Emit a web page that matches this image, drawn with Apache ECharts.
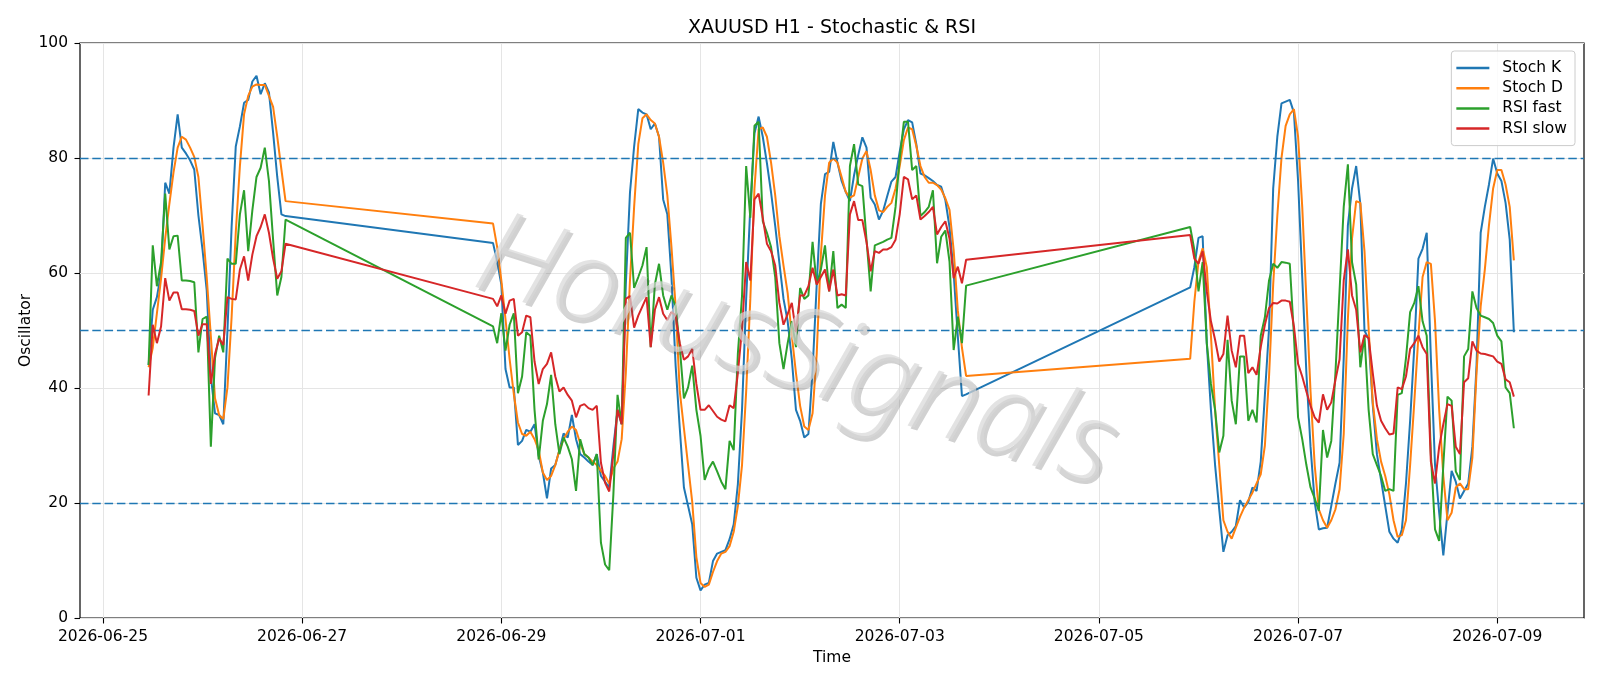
<!DOCTYPE html>
<html>
<head>
<meta charset="utf-8">
<title>XAUUSD H1 - Stochastic &amp; RSI</title>
<script src="https://cdn.jsdelivr.net/npm/echarts@6/dist/echarts.min.js"></script>
<style>
  html, body { margin: 0; padding: 0; background: #fff; }
  #chart { width: 1600px; height: 686px; }
</style>
</head>
<body>
<div id="chart"></div>
<script>
// hourly bars (UTC), three trading sessions; the weekends are just bridged by the lines
var sessionStarts = ['2026-06-25T11:00:00Z', '2026-06-28T22:00:00Z', '2026-07-05T22:00:00Z'];
var sessionLengths = [34, 115, 79];

var stochK = [
  // 06-25 11:00 .. 06-26 20:00
  44, 53.6, 55.8, 60, 75.7, 73.8, 81.8, 87.6, 81.8, 80.8,
  79.6, 78, 70, 64, 57, 42, 35.6, 35.3, 33.7, 50,
  68, 82, 85.5, 89.6, 90.1, 93.3, 94.3, 91.1, 93, 91.4,
  84.4, 76.7, 70.2, 69.9,
  // 06-28 22:00 .. 07-03 16:00
  65.2, 62, 58, 43.3, 40.1, 40.1, 30.1, 30.8, 32.7, 32.4,
  33.7, 28.2, 25.3, 20.8, 26, 26.6, 29.2, 32.1, 31.4, 35.3,
  31.1, 28.5, 27.9, 27.2, 26.6, 28.5, 24.7, 23.7, 22.7, 29.8,
  36.2, 33.7, 58, 74, 82, 88.5, 87.9, 87.6, 85, 86,
  83.7, 72.8, 70.2, 59.3, 43.9, 33, 22.7, 19.5, 16.3, 7,
  4.8, 5.8, 6.1, 9.9, 11.2, 11.5, 11.8, 13.7, 16.3, 23.3,
  36.2, 55.5, 71.5, 84.3, 87.2, 83.7, 79.1, 74, 68.2, 61.8,
  55.5, 51.6, 45, 36.2, 34.3, 31.4, 32, 43, 58, 72,
  77.2, 77.6, 82.8, 79.2, 76, 74.1, 72.5, 77, 80.5, 83.6,
  81.8, 73.1, 71.9, 69.3, 70.8, 73.4, 75.9, 76.7, 81.1, 85,
  86.6, 86.2, 82.4, 77.3, 77, 76.5, 76, 75.3, 75, 72.7,
  68, 60, 49, 38.6, 38.9,
  // 07-05 22:00 .. 07-09 04:00
  57.5, 61, 66.1, 66.4, 47.8, 36.2, 26.6, 18.9, 11.5, 14.4,
  15, 16, 20.5, 19.2, 20.2, 22.7, 22.1, 27.2, 38.8, 50.3,
  74.7, 83.7, 89.5, 89.8, 90.1, 87.9, 76, 59.3, 42.6, 29.8,
  20.2, 15.4, 15.6, 15.7, 19.5, 23.4, 27, 45.2, 68.3, 74.7,
  78.6, 72, 50, 48.5, 37, 28.5, 24, 19.5, 15, 13.8,
  13.1, 15.4, 23.4, 34.3, 47.1, 62.5, 64.2, 67, 45.2, 26.6,
  18.3, 10.9, 18.3, 25.6, 23.7, 20.8, 22.1, 23.4, 29.8, 43.9,
  67, 71.5, 75.4, 79.9, 77.3, 76, 72.2, 65.8, 49.7
];

var stochD = [
  43.6, 47, 53, 59, 66, 72, 77.5, 81.8, 83.7, 83.2,
  81.8, 80.2, 76.7, 68.3, 59.3, 49, 38.2, 35.3, 34.6, 40.1,
  52.3, 67, 78.6, 87.6, 90.8, 92.4, 92.8, 92.7, 92.7, 90.8,
  88.9, 83.7, 78, 72.5,

  68.6, 64.5, 58.7, 52, 45, 39, 34, 32, 31.7, 32.4,
  31.1, 29.2, 25.3, 24, 24.7, 26.6, 29.2, 31.1, 32.4, 33.3,
  32.7, 30.4, 28.5, 27.9, 27.2, 26.6, 25.6, 24.7, 23.4, 26,
  27.2, 31.1, 42.6, 58.7, 71.5, 82.4, 86.9, 87.6, 86.6, 86,
  83.7, 79.2, 73.5, 64.5, 54.2, 39.4, 33, 26.6, 20.2, 10.6,
  6.1, 5.4, 5.8, 8, 9.9, 11.2, 11.5, 12.5, 15, 19.5,
  26.6, 39.4, 55.5, 74.7, 85, 85.3, 83.7, 79.2, 73.5, 66.4,
  61.3, 56.5, 49.1, 42.6, 36.9, 33.3, 32.7, 35.6, 45.9, 63.2,
  73.5, 79.2, 79.9, 79.2, 76.7, 74.1, 73.1, 73.5, 76.7, 79.9,
  81.2, 77.9, 73.5, 70.9, 70.6, 71.5, 72.2, 74.7, 78.6, 83.1,
  85.3, 85, 82.1, 78.6, 76.7, 75.7, 75.7, 75.3, 74.5, 73,
  71, 64, 53.5, 47, 42.1,

  45.1, 55, 62, 64.3, 61, 49.1, 36.2, 26.6, 17, 15,
  13.8, 15.7, 17.6, 19.2, 20.5, 21.8, 23.4, 25, 30, 42,
  58, 70, 80, 85.6, 87.6, 88.5, 83.7, 71.5, 55.5, 39.4,
  26.6, 18.9, 17, 15.7, 17, 18.9, 22.4, 32, 52, 66,
  72.5, 72.2, 63.8, 50.3, 37.5, 31.1, 27.2, 24.7, 21.5, 17,
  14.1, 14.4, 17, 26.6, 37.5, 49.1, 59.3, 61.9, 61.6, 51.6,
  36.2, 24.7, 17, 18.3, 22.7, 23.4, 22.4, 22.4, 27.9, 42.6,
  54.2, 60.6, 68.3, 74.7, 77.9, 77.9, 75.4, 71.5, 62.2
];

var rsiFast = [
  44, 64.8, 57.7, 61.9, 73.8, 64.1, 66.4, 66.5, 58.7, 58.7,
  58.6, 58.4, 46.2, 52, 52.4, 29.8, 45.2, 49.1, 46.2, 62.5,
  61.6, 61.6, 70.2, 74.4, 63.8, 70.9, 76.7, 78.3, 81.8, 76,
  65.8, 56.1, 59.3, 69.3,

  50.7, 47.8, 53, 46.5, 51, 53, 39.1, 42, 49.7, 49.1,
  36.2, 27.6, 34.3, 37.2, 42.3, 33.7, 28.5, 31.4, 29.8, 27.6,
  22.1, 31.1, 28.5, 27.9, 26.6, 28.5, 13.1, 9.3, 8.3, 21.5,
  38.8, 33.7, 66.1, 67, 57.4, 59.3, 61.3, 64.5, 47.1, 58,
  61.6, 56.1, 53.6, 56.1, 54.2, 47.1, 38.2, 40.1, 43.9, 36.2,
  31.7, 24, 26, 27.2, 25.5, 23.7, 22.4, 30.8, 29.2, 46,
  56, 78.6, 69.6, 85.6, 86.3, 69, 67, 64.5, 59.3, 47.8,
  43.3, 47.8, 51.6, 47.1, 57.4, 55.5, 56.1, 65.4, 58, 60.6,
  64.8, 56.8, 63.8, 53.9, 54.5, 53.9, 78.6, 82.4, 75.4, 75.1,
  65.8, 56.8, 64.8, 65.1, 65.4, 65.8, 66.1, 71.5, 79.9, 86.3,
  86.3, 77.9, 78.6, 69.9, 70.6, 71.5, 74.4, 61.7, 66.3, 67.4,
  62, 46.6, 52.4, 47.8, 57.8,

  68, 64, 56.8, 61.9, 47.8, 40.7, 36.2, 28.8, 31.7, 48.4,
  37.8, 33.7, 45.5, 45.5, 34.3, 36.2, 34, 49.1, 52.3, 58.7,
  61.6, 60.9, 61.9, 61.8, 61.6, 49.1, 34.9, 31.1, 26.6, 22.7,
  20.8, 18.6, 32.7, 27.9, 30.8, 42.6, 57, 71.5, 78.9, 61.9,
  58, 43.6, 49.1, 36.2, 28.5, 26.6, 24.7, 22.1, 22.4, 22.1,
  38.8, 39.1, 45.2, 53.2, 54.8, 57.7, 51.6, 49.1, 28.5, 15.4,
  13.4, 26.6, 38.5, 37.8, 25.5, 24, 45.5, 46.8, 56.8, 53.9,
  52.6, 52.3, 52, 51.3, 49.1, 48.1, 40.1, 39.1, 33
];

var rsiSlow = [
  38.7, 51, 47.8, 50.7, 59.1, 55.2, 56.6, 56.6, 53.7, 53.7,
  53.6, 53.4, 49.1, 51.1, 51.1, 40.7, 45.9, 48.6, 47.5, 55.8,
  55.5, 55.4, 60.6, 62.9, 58.7, 63.2, 66.4, 68, 70.2, 67,
  62.5, 59, 60.3, 65.1,

  55.5, 54.2, 56.1, 52.9, 55.2, 55.5, 49.1, 49.7, 52.6, 52.3,
  44.6, 40.7, 43.3, 44.2, 46.2, 42, 39.4, 40.1, 38.8, 37.8,
  34.9, 36.9, 37.2, 36.5, 36.2, 36.9, 27, 23.5, 22, 28.5,
  36.2, 33.7, 55.5, 56, 50.5, 52.6, 54.2, 55.8, 47.1, 53.6,
  55.8, 52.9, 51.8, 53.2, 52.6, 47.8, 44.9, 45.5, 46.8, 40.7,
  36.2, 36.2, 37, 36, 35, 34.5, 34.2, 37, 36.5, 42.6,
  50.3, 61.9, 58.7, 72.8, 73.8, 69.6, 65.1, 63.8, 61.3, 54.8,
  51, 52.9, 54.8, 49.7, 56.1, 56.1, 57.7, 60.9, 58, 59.3,
  60.6, 56.8, 60.6, 56.1, 56.3, 56.1, 70.2, 72.5, 69.2, 69.2,
  65.4, 60.3, 63.8, 63.5, 64.1, 64.1, 64.5, 65.8, 70.2, 76.7,
  76.3, 72.8, 73.5, 69.3, 69.9, 70.6, 71.5, 66.7, 68, 69,
  66, 59.1, 61.1, 58.2, 62.3,

  66.6, 62.5, 61.6, 63.8, 56.8, 51.6, 48.4, 44.6, 45.9, 52.6,
  46.5, 43.6, 49.1, 49.1, 42.6, 43.6, 42.3, 47.1, 51, 53.9,
  54.8, 54.7, 55.2, 55.2, 55, 50.7, 44.2, 42, 39.4, 36.9,
  34.9, 34, 38.9, 36.2, 37.5, 41.4, 45, 58.7, 64.1, 56.1,
  53.6, 46.2, 49.2, 48.7, 42.6, 36.9, 34.3, 33, 31.9, 32.1,
  40.1, 39.8, 42, 46.8, 47.8, 49.1, 47.1, 45.9, 27.2, 23.4,
  29.8, 33.7, 37.2, 36.9, 29.8, 28.5, 41, 41.7, 48.1, 46.5,
  46, 45.9, 45.7, 45.5, 44.6, 44.2, 41.5, 41, 38.5
];

var seriesNames = ['Stoch K', 'Stoch D', 'RSI fast', 'RSI slow'];
var tickLabels = ['2026-06-25', '2026-06-27', '2026-06-29', '2026-07-01', '2026-07-03', '2026-07-05', '2026-07-07', '2026-07-09'];
var levels = [80, 50, 20];

var colors = ['#1f77b4', '#ff7f0e', '#2ca02c', '#d62728'];
var font = 'DejaVu Sans';

// x values are epoch milliseconds on a plain value axis
var times = [];
sessionStarts.forEach(function (s, i) {
  var t0 = Date.parse(s);
  for (var k = 0; k < sessionLengths[i]; k++) times.push(t0 + k * 3600 * 1000);
});
var tickTimes = tickLabels.map(function (d) { return Date.parse(d + 'T00:00:00Z'); });

function pairs(vals) {
  return vals.map(function (v, i) { return [times[i], v]; });
}

var myChart = echarts.init(document.getElementById('chart'));

var series = [stochK, stochD, rsiFast, rsiSlow].map(function (vals, i) {
  return {
    name: seriesNames[i],
    type: 'line',
    data: pairs(vals),
    symbol: 'none',
    showSymbol: false,
    z: 3 + i,
    lineStyle: { width: 2, color: colors[i] },
    itemStyle: { color: colors[i] },
    emphasis: { disabled: true }
  };
});
series[0].markLine = {
  silent: true,
  symbol: 'none',
  label: { show: false },
  lineStyle: { color: '#1f77b4', type: [8.5, 3.8], width: 1.4 },
  data: levels.map(function (l) { return { yAxis: l }; })
};

var watermark = {
  text: 'HorusSignals', fontFamily: 'Noto Sans', fontSize: 116, fontStyle: 'italic', fontWeight: 300,
  align: 'center', verticalAlign: 'middle'
};

var option = {
  animation: false,
  backgroundColor: '#fff',
  title: {
    text: 'XAUUSD H1 - Stochastic & RSI',
    left: 832,
    top: 19,
    textAlign: 'center',
    padding: 0,
    textStyle: { fontFamily: font, fontSize: 19, fontWeight: 'normal', color: '#000' }
  },
  grid: {
    left: 80, right: 16, top: 43, bottom: 68,
    show: true, borderColor: '#000', borderWidth: 1.2, backgroundColor: 'transparent'
  },
  legend: {
    orient: 'vertical',
    right: 25,
    top: 51,
    data: seriesNames,
    icon: 'rect',
    itemWidth: 33,
    itemHeight: 2.5,
    itemGap: 4.2,
    padding: [9, 8, 9, 5],
    backgroundColor: 'rgba(255,255,255,0.85)',
    borderColor: '#cccccc',
    borderWidth: 1,
    borderRadius: 3,
    selectedMode: false,
    textStyle: { fontFamily: font, fontSize: 15.5, color: '#000', padding: [0, 0, 0, 8] }
  },
  xAxis: {
    type: 'value',
    min: Date.parse('2026-06-24T18:28:00Z'),
    max: Date.parse('2026-07-09T20:54:00Z'),
    name: 'Time',
    nameLocation: 'middle',
    nameGap: 32,
    nameMoveOverlap: false,
    nameTextStyle: { fontFamily: font, fontSize: 15.5, color: '#000' },
    axisLine: { show: false },
    axisTick: { show: true, length: 5.5, customValues: tickTimes, lineStyle: { color: '#000', width: 1.1 } },
    axisLabel: {
      customValues: tickTimes,
      margin: 11,
      fontFamily: font, fontSize: 15.5, color: '#000',
      formatter: function (v) {
        for (var i = 0; i < tickTimes.length; i++) {
          if (Math.abs(tickTimes[i] - v) < 60000) return tickLabels[i];
        }
        return '';
      }
    },
    splitLine: { show: true, lineStyle: { color: '#e5e5e5', width: 1 } }
  },
  yAxis: {
    type: 'value',
    min: 0,
    max: 100,
    interval: 20,
    name: 'Oscillator',
    nameLocation: 'middle',
    nameRotate: 90,
    nameGap: 46,
    nameMoveOverlap: false,
    nameTextStyle: { fontFamily: font, fontSize: 15.5, color: '#000' },
    axisLine: { show: false },
    axisTick: { show: true, length: 5.5, lineStyle: { color: '#000', width: 1.1 } },
    axisLabel: { margin: 12, fontFamily: font, fontSize: 15.5, color: '#000' },
    splitLine: { show: true, lineStyle: { color: '#e5e5e5', width: 1 } }
  },
  graphic: [
    {
      // watermark shadow
      type: 'text', x: 799, y: 358, rotation: -0.31, z: 100, silent: true,
      style: echarts.util.extend({ fill: 'rgba(90,90,90,0.28)' }, watermark)
    },
    {
      type: 'text', x: 796, y: 355, rotation: -0.31, z: 101, silent: true,
      style: echarts.util.extend({ fill: 'rgba(215,215,215,0.7)' }, watermark)
    }
  ],
  series: series
};

myChart.setOption(option);
</script>
</body>
</html>
